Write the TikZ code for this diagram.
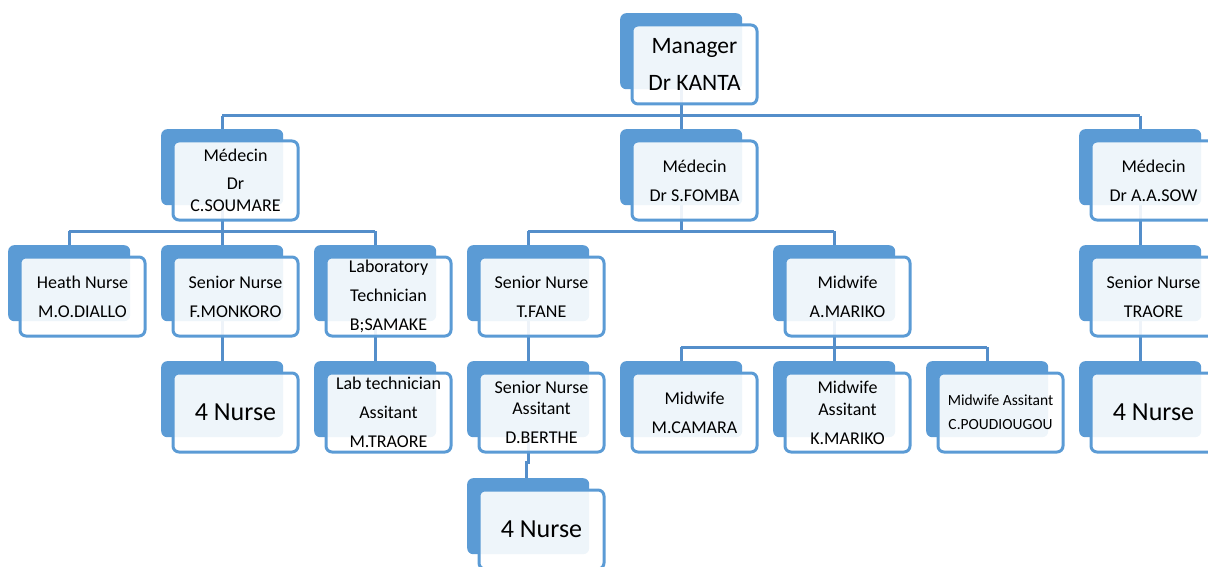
\documentclass[tikz,border=0pt]{standalone}
\usepackage{fontspec}
\setmainfont{Carlito}
\usetikzlibrary{calc}
\definecolor{boxblue}{RGB}{91,155,213}
\definecolor{lineblue}{RGB}{84,142,202}
\pgfdeclarelayer{bg}
\pgfsetlayers{bg,main}
\newcommand\orgbox[5]{%
  \node[backbox] (#1-b) at (#2,#3) {};
  \node[frontbox, font=#5] (#1) at (#2+74.5,#3+51.5) {#4};
}
\newcommand\nfont{\fontsize{18}{29}\selectfont}
\newcommand\bigfont{\fontsize{23.5}{37}\selectfont}
\newcommand\hugefont{\fontsize{26}{30}\selectfont}
\newcommand\smallfont{\fontsize{15.5}{24}\selectfont}
\begin{document}
\begin{tikzpicture}[x=1pt,y=-1pt,
  backbox/.style={fill=boxblue, rounded corners=6pt, minimum width=122pt, minimum height=76pt, anchor=north west, inner sep=0pt},
  frontbox/.style={draw=boxblue, line width=3pt, fill=white, fill opacity=0.9, text opacity=1, rounded corners=6pt, minimum width=125pt, minimum height=79pt, align=center, inner sep=0pt, text=black},
  conn/.style={draw=lineblue, line width=3pt},
]
\useasboundingbox (0,0) rectangle (1208,567);
\clip (0,0) rectangle (1208,567);
% row 1
\orgbox{mgr}{620}{13}{Manager\\Dr KANTA}{\bigfont}
% row 2
\orgbox{soumare}{161}{129}{Médecin\\[-1pt]Dr\\[-7pt]C.SOUMARE}{\nfont}
\orgbox{fomba}{620}{129}{Médecin\\Dr S.FOMBA}{\nfont}
\orgbox{sow}{1079}{129}{Médecin\\Dr A.A.SOW}{\nfont}
% row 3
\orgbox{diallo}{8}{245}{Heath Nurse\\M.O.DIALLO}{\nfont}
\orgbox{monkoro}{161}{245}{Senior Nurse\\F.MONKORO}{\nfont}
\orgbox{samake}{314}{245}{Laboratory\\Technician\\B;SAMAKE}{\nfont}
\orgbox{fane}{467}{245}{Senior Nurse\\T.FANE}{\nfont}
\orgbox{amariko}{773}{245}{Midwife\\A.MARIKO}{\nfont}
\orgbox{traore}{1079}{245}{Senior Nurse\\TRAORE}{\nfont}
% row 4
\orgbox{nurseA}{161}{361}{4 Nurse}{\hugefont}
\orgbox{mtraore}{314}{361}{Lab technician\\Assitant\\M.TRAORE}{\nfont}
\orgbox{berthe}{467}{361}{Senior Nurse\\[-8pt]Assitant\\D.BERTHE}{\nfont}
\orgbox{camara}{620}{361}{Midwife\\M.CAMARA}{\nfont}
\orgbox{kmariko}{773}{361}{Midwife\\[-7pt]Assitant\\K.MARIKO}{\nfont}
\orgbox{poudiougou}{926}{361}{Midwife Assitant\\C.POUDIOUGOU}{\smallfont}
\orgbox{nurseC}{1079}{361}{4 Nurse}{\hugefont}
% row 5
\orgbox{nurseB}{467}{478}{4 Nurse}{\hugefont}
% junction levels
\coordinate (j1) at (0,116);
\coordinate (j2) at (0,231);
\coordinate (j3) at (0,347);
\coordinate (jog) at (0,462);
\begin{pgfonlayer}{bg}
\draw[conn] (mgr-b.center) -- (mgr-b.center |- j1);
\draw[conn] (soumare-b.center |- j1) -- (sow-b.center |- j1);
\draw[conn] (soumare-b.center |- j1) -- (soumare-b.center);
\draw[conn] (fomba-b.center |- j1) -- (fomba-b.center);
\draw[conn] (sow-b.center |- j1) -- (sow-b.center);
\draw[conn] (soumare-b.center) -- (soumare-b.center |- j2);
\draw[conn] (diallo-b.center |- j2) -- (samake-b.center |- j2);
\draw[conn] (diallo-b.center |- j2) -- (diallo-b.center);
\draw[conn] (monkoro-b.center |- j2) -- (monkoro-b.center);
\draw[conn] (samake-b.center |- j2) -- (samake-b.center);
\draw[conn] (fomba-b.center) -- (fomba-b.center |- j2);
\draw[conn] (fane-b.center |- j2) -- (amariko-b.center |- j2);
\draw[conn] (fane-b.center |- j2) -- (fane-b.center);
\draw[conn] (amariko-b.center |- j2) -- (amariko-b.center);
\draw[conn] (sow-b.center) -- (traore-b.center);
\draw[conn] (traore-b.center) -- (nurseC-b.center);
\draw[conn] (monkoro-b.center) -- (nurseA-b.center);
\draw[conn] (samake-b.center) -- (mtraore-b.center);
\draw[conn] (fane-b.center) -- (berthe-b.center);
\draw[conn] (berthe-b.center) -- (berthe-b.center |- jog) -- ++(-2,0) -- ($(nurseB-b.center)+(-2,0)$);
\draw[conn] (amariko-b.center) -- (amariko-b.center |- j3);
\draw[conn] (camara-b.center |- j3) -- (poudiougou-b.center |- j3);
\draw[conn] (camara-b.center |- j3) -- (camara-b.center);
\draw[conn] (kmariko-b.center |- j3) -- (kmariko-b.center);
\draw[conn] (poudiougou-b.center |- j3) -- (poudiougou-b.center);
\end{pgfonlayer}
\end{tikzpicture}
\end{document}
